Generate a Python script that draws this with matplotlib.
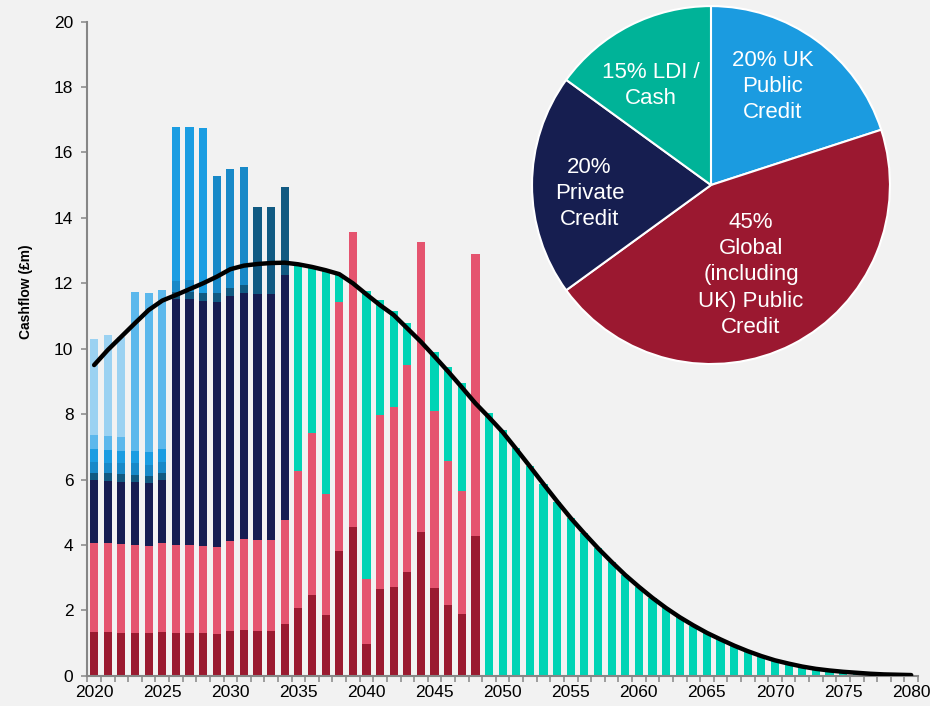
import numpy as np
import matplotlib.pyplot as plt

plt.rcParams['font.family'] = ['Liberation Sans', 'DejaVu Sans']

years = np.arange(2020, 2081)

# Cashflow by asset bucket (£m); each series starts at the given year, zero elsewhere
global_credit_start = 2020
global_credit = [1.35, 1.35, 1.32, 1.32, 1.31, 1.35, 1.32, 1.32, 1.31, 1.29,
                 1.37, 1.39, 1.38, 1.38, 1.57, 2.08, 2.47, 1.85, 3.80, 4.54,
                 0.98, 2.66, 2.72, 3.16, 4.40, 2.69, 2.17, 1.88, 4.28]

global_credit_2_start = 2020
global_credit_2 = [2.72, 2.70, 2.70, 2.69, 2.67, 2.71, 2.68, 2.69, 2.66, 2.65,
                   2.75, 2.79, 2.77, 2.77, 3.19, 4.19, 4.96, 3.70, 7.64, 9.04,
                   1.97, 5.32, 5.49, 6.33, 8.85, 5.40, 4.39, 3.78, 8.61]

private_credit_start = 2020
private_credit = [1.91, 1.89, 1.90, 1.91, 1.90, 1.92, 7.51, 7.50, 7.50, 7.50,
                  7.49, 7.51, 7.51, 7.51, 7.50]

uk_credit_a_start = 2020
uk_credit_a = [0.23, 0.25, 0.25, 0.23, 0.24, 0.23, 0.23, 0.23, 0.24, 0.25,
               0.26, 0.25, 2.67, 2.67, 2.68]

uk_credit_b_start = 2020
uk_credit_b = [0.33, 0.32, 0.32, 0.34, 0.32, 0.33, 0.33, 0.36, 0.00, 3.60,
               3.62, 3.63]

uk_credit_c_start = 2020
uk_credit_c = [0.39, 0.39, 0.39, 0.38, 0.40, 0.40, 4.71, 4.69, 5.03]

uk_credit_d_start = 2020
uk_credit_d = [0.43, 0.43, 0.41, 4.87, 4.86, 4.86]

uk_credit_e_start = 2020
uk_credit_e = [2.93, 3.10, 3.06]

ldi_cash_start = 2035
ldi_cash = [6.27, 5.05, 6.84, 0.83, 0.00, 8.82, 3.51, 2.95, 1.29, 0.00,
            1.82, 2.89, 3.28, 0.00, 8.02, 7.51, 6.95, 6.41, 5.86, 5.32,
            4.81, 4.35, 3.90, 3.49, 3.08, 2.72, 2.37, 2.06, 1.79, 1.52,
            1.30, 1.11, 0.91, 0.73, 0.58, 0.46, 0.36, 0.28, 0.20, 0.15,
            0.11, 0.08, 0.06, 0.04, 0.03, 0.02]

# Projected liability cashflows
liabilities = [9.50, 9.96, 10.37, 10.78, 11.18, 11.47, 11.64, 11.82, 12.00, 12.20,
               12.43, 12.54, 12.59, 12.62, 12.63, 12.58, 12.50, 12.40, 12.28, 12.00,
               11.66, 11.33, 11.03, 10.62, 10.21, 9.76, 9.30, 8.82, 8.33, 7.90,
               7.45, 6.93, 6.40, 5.86, 5.33, 4.82, 4.35, 3.90, 3.48, 3.08,
               2.72, 2.38, 2.07, 1.79, 1.54, 1.31, 1.11, 0.92, 0.75, 0.60,
               0.47, 0.37, 0.28, 0.21, 0.16, 0.12, 0.09, 0.06, 0.04, 0.03, 0.02]

# Strategic allocation
pie_labels = ['20% UK\nPublic\nCredit', '45%\nGlobal\n(including\nUK) Public\nCredit',
              '20%\nPrivate\nCredit', '15% LDI /\nCash']
pie_shares = [20, 45, 20, 15]


def full_series(start, values):
    out = np.zeros(len(years))
    i = start - years[0]
    out[i:i + len(values)] = values
    return out


stack = [
    (full_series(global_credit_start, global_credit), '#9a1a30'),
    (full_series(global_credit_2_start, global_credit_2), '#e5546f'),
    (full_series(private_credit_start, private_credit), '#161d52'),
    (full_series(uk_credit_a_start, uk_credit_a), '#115a82'),
    (full_series(uk_credit_b_start, uk_credit_b), '#1889c8'),
    (full_series(uk_credit_c_start, uk_credit_c), '#1b9de2'),
    (full_series(uk_credit_d_start, uk_credit_d), '#5cb8ec'),
    (full_series(uk_credit_e_start, uk_credit_e), '#9bd2f2'),
    (full_series(ldi_cash_start, ldi_cash), '#00d4b5'),
]

bg = '#f2f2f2'
grey = '#868686'

fig = plt.figure(figsize=(9.3, 7.06), dpi=100, facecolor=bg)
ax = fig.add_axes([0.0939, 0.0429, 0.8932, 0.9264], facecolor=bg)

bottom = np.zeros(len(years))
for vals, col in stack:
    ax.bar(years, vals, width=0.6, bottom=bottom, color=col, linewidth=0)
    bottom += vals

ax.plot(years, liabilities, color='black', lw=3.2, solid_joinstyle='round',
        solid_capstyle='round', zorder=5)

ax.set_xlim(2019.5, 2080.5)
ax.set_ylim(0, 20)
ax.set_yticks(np.arange(0, 21, 2))
ax.set_xticks(np.arange(2020, 2081, 5))
ax.set_xticks(np.arange(2019.5, 2081, 1), minor=True)
ax.tick_params(axis='x', which='major', length=0, pad=7, labelsize=12.5)
ax.tick_params(axis='x', which='minor', length=4, width=1.1, color=grey)
ax.tick_params(axis='y', length=4, width=1.1, color=grey, pad=6, labelsize=12.5)

for side in ['top', 'right']:
    ax.spines[side].set_visible(False)
for side in ['left', 'bottom']:
    ax.spines[side].set_color(grey)
    ax.spines[side].set_linewidth(1.5)

ax.set_ylabel('Cashflow (£m)', fontsize=10, fontweight='bold')
ax.yaxis.set_label_coords(-0.066, 0.587)

# Allocation pie in the top right corner
pax = fig.add_axes([0.572, 0.4844, 0.385, 0.507])
wedges, texts = pax.pie(pie_shares, labels=pie_labels, startangle=90, counterclock=False,
                        colors=['#1b9be0', '#9b1830', '#161e50', '#00b398'],
                        labeldistance=0.65,
                        wedgeprops=dict(edgecolor='white', linewidth=1.5),
                        textprops=dict(color='white', fontsize=16, linespacing=1.32))
label_radius = [0.65, 0.55, 0.68, 0.65]
label_shift = [4, -3, 4, 4]
for w, t, r, s in zip(wedges, texts, label_radius, label_shift):
    ang = np.deg2rad((w.theta1 + w.theta2) / 2 + s)
    t.set_position((r * np.cos(ang), r * np.sin(ang)))
    t.set_ha('center')
    t.set_va('center')
    t.set_multialignment('center')
pax.set_xlim(-1, 1)
pax.set_ylim(-1, 1)

fig.savefig('out.png', dpi=100, facecolor=bg)
